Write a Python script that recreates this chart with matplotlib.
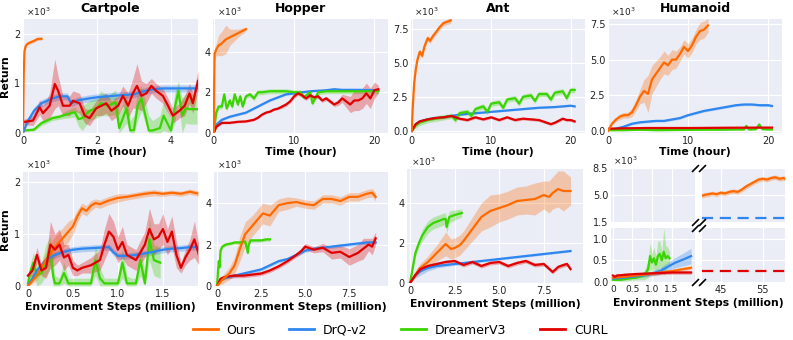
import matplotlib
matplotlib.use("Agg")
import matplotlib.pyplot as plt
import numpy as np
from matplotlib.lines import Line2D

plt.rcParams["font.family"] = ["DejaVu Sans"]

C_OURS = "#ff6a00"
C_DRQ = "#2e86ef"
C_DRM = "#3ad400"
C_CURL = "#e00000"
BG = "#eaecf6"

W, H = 793, 340

# ---------------- data (x10^3 return) ----------------
# Cartpole, time (hour)
cp_t_ours_x = [0, 0.02, 0.04, 0.07, 0.12, 0.2, 0.3, 0.4, 0.5]
cp_t_ours_y = [0, 1.2, 1.65, 1.75, 1.8, 1.83, 1.86, 1.9, 1.9]
cp_t_drq_x = [0, 0.1, 0.3, 0.5, 0.8, 1.0, 1.2, 1.3, 1.5, 1.8, 2.0, 2.3, 2.6, 3.0, 3.2, 3.5, 3.8, 4.0, 4.3, 4.7]
cp_t_drq_y = [0, 0.2, 0.45, 0.6, 0.7, 0.74, 0.74, 0.6, 0.66, 0.7, 0.72, 0.74, 0.76, 0.78, 0.83, 0.88, 0.9, 0.9, 0.9, 0.9]
cp_t_drm_x = [0.05, 0.3, 0.5, 0.8, 1.0, 1.2, 1.4, 1.5, 1.6, 1.8, 2.0, 2.1, 2.3, 2.5, 2.6, 2.8, 2.9, 3.0, 3.1, 3.2,
              3.4, 3.5, 3.7, 3.8, 4.0, 4.1, 4.2, 4.3, 4.4, 4.5, 4.7]
cp_t_drm_y = [0.05, 0.07, 0.2, 0.3, 0.33, 0.38, 0.42, 0.28, 0.3, 0.45, 0.5, 0.6, 0.55, 0.62, 0.1, 0.5, 0.05, 0.06,
              0.55, 0.7, 0.05, 0.05, 0.1, 0.35, 0.05, 0.5, 0.85, 0.35, 0.5, 0.48, 0.48]
cp_t_drm_b = [0.02, 0.03, 0.05, 0.05, 0.05, 0.08, 0.1, 0.15, 0.25, 0.2, 0.2, 0.25, 0.2, 0.25, 0.3, 0.3, 0.2, 0.3,
              0.3, 0.25, 0.3, 0.2, 0.25, 0.3, 0.2, 0.3, 0.2, 0.35, 0.3, 0.3, 0.3]
cp_t_curl_x = [0, 0.27, 0.45, 0.54, 0.72, 0.86, 0.95, 1.08, 1.26, 1.35, 1.53, 1.67, 1.8, 1.98, 2.12, 2.25, 2.39,
               2.57, 2.7, 2.84, 2.97, 3.08, 3.2, 3.33, 3.47, 3.6, 3.78, 3.92, 4.05, 4.23, 4.37, 4.5, 4.59, 4.73]
cp_t_curl_y = [0.22, 0.25, 0.52, 0.4, 0.55, 0.99, 0.85, 0.55, 0.55, 0.65, 0.6, 0.35, 0.3, 0.5, 0.55, 0.6, 0.45,
               0.55, 0.75, 0.55, 0.8, 0.95, 0.75, 0.8, 0.95, 0.85, 0.75, 0.55, 0.35, 0.45, 0.55, 0.8, 0.6, 1.05]
cp_t_curl_b = [0.05, 0.1, 0.15, 0.15, 0.25, 0.5, 0.3, 0.2, 0.2, 0.2, 0.2, 0.15, 0.15, 0.15, 0.2, 0.2, 0.2,
               0.2, 0.2, 0.25, 0.3, 0.45, 0.3, 0.2, 0.15, 0.15, 0.15, 0.15, 0.15, 0.15, 0.2, 0.2, 0.2, 0.2]

# Hopper, time
hp_t_ours_x = [0, 0.05, 0.1, 0.3, 0.6, 1.0, 1.5, 2.0, 2.5, 3.0, 3.5, 4.0]
hp_t_ours_y = [0, 2.5, 3.9, 4.1, 4.3, 4.4, 4.6, 4.7, 4.8, 4.9, 5.0, 5.1]
hp_t_ours_b = [0, 0.3, 0.3, 0.3, 0.5, 0.6, 0.7, 0.4, 0.3, 0.2, 0.15, 0.1]
hp_t_drq_x = [0, 0.3, 1, 2, 3, 4, 5, 6, 7, 8, 9, 10, 11, 12, 14, 15, 16, 18, 20, 20.5]
hp_t_drq_y = [0, 0.4, 0.65, 0.8, 0.9, 1.0, 1.2, 1.4, 1.6, 1.75, 1.9, 1.95, 2.0, 2.05, 2.1, 2.15, 2.12, 2.12, 2.1, 2.1]
hp_t_drm_x = [0, 0.3, 0.6, 1, 1.3, 1.6, 2, 2.3, 2.6, 3, 3.3, 3.6, 4, 4.5, 5, 5.5, 6, 7, 8, 9, 10, 10.8, 11.2,
              12, 12.3, 13, 14, 16, 18, 20, 20.5]
hp_t_drm_y = [0, 1.0, 1.3, 1.3, 1.9, 1.2, 1.6, 1.3, 1.9, 1.4, 1.8, 1.3, 1.8, 1.9, 1.7, 2.0, 2.0, 2.05, 2.05, 2.05,
              2.0, 2.0, 1.75, 2.0, 1.45, 2.0, 2.05, 2.05, 2.05, 2.05, 2.05]
hp_t_curl_x = [0, 0.3, 1, 2, 3, 4, 5, 5.5, 6, 6.5, 7, 7.5, 8, 8.5, 9, 9.5, 10, 10.5, 11, 11.5, 12, 12.5, 13,
               13.5, 14, 14.5, 15, 15.5, 16, 16.5, 17, 17.5, 18, 18.5, 19, 19.5, 20, 20.5]
hp_t_curl_y = [0, 0.3, 0.5, 0.5, 0.55, 0.57, 0.65, 0.75, 0.9, 1.0, 1.05, 1.15, 1.2, 1.3, 1.4, 1.55, 1.8, 1.95,
               1.85, 1.7, 1.85, 1.75, 1.8, 1.6, 1.7, 1.55, 1.4, 1.5, 1.7, 1.55, 1.4, 1.6, 1.6, 1.7, 1.95, 1.7,
               2.1, 2.15]
hp_t_curl_b = [0, 0.05, 0.05, 0.05, 0.05, 0.05, 0.05, 0.05, 0.05, 0.05, 0.05, 0.05, 0.05, 0.08, 0.08, 0.08,
               0.1, 0.1, 0.1, 0.1, 0.1, 0.1, 0.1, 0.1, 0.1, 0.1, 0.1, 0.15, 0.2, 0.3, 0.4, 0.5, 0.5, 0.5, 0.5,
               0.5, 0.4, 0.2]

# Ant, time
an_t_ours_x = [0, 0.1, 0.3, 0.5, 0.7, 1.0, 1.3, 1.6, 2.0, 2.3, 2.6, 3.0, 3.5, 4.0, 4.5, 4.9]
an_t_ours_y = [0, 1.5, 3.5, 4.5, 5.2, 5.8, 5.5, 6.2, 6.8, 6.6, 6.9, 7.2, 7.6, 7.9, 8.0, 8.1]
an_t_drq_x = [0, 0.5, 1, 2, 3, 4, 6, 8, 10, 12, 14, 16, 18, 20, 20.5]
an_t_drq_y = [0, 0.5, 0.7, 0.85, 0.95, 1.0, 1.2, 1.3, 1.4, 1.5, 1.6, 1.7, 1.75, 1.85, 1.8]
an_t_drm_x = [0, 0.5, 1, 2, 3, 4, 5, 5.5, 6, 7, 7.5, 8, 9, 9.5, 10, 11, 11.5, 12, 13, 13.5, 14, 15, 15.5, 16,
              17, 17.5, 18, 19, 19.5, 20, 20.5]
an_t_drm_y = [0, 0.4, 0.6, 0.8, 0.9, 1.0, 1.1, 0.8, 1.3, 1.4, 1.1, 1.6, 1.8, 1.4, 2.0, 2.1, 1.7, 2.3, 2.4, 2.0,
              2.5, 2.6, 2.2, 2.7, 2.7, 2.3, 2.8, 2.9, 2.4, 3.0, 3.0]
an_t_curl_x = [0, 0.5, 1, 2, 3, 4, 5, 5.5, 6, 7, 8, 9, 10, 11, 12, 13, 14, 15, 16, 17, 17.5, 18, 19, 19.5, 20, 20.5]
an_t_curl_y = [0, 0.5, 0.7, 0.85, 0.95, 1.0, 1.1, 1.0, 0.9, 0.8, 1.0, 0.85, 1.0, 0.8, 1.0, 0.8, 0.9, 0.85, 0.8,
               0.6, 0.5, 0.6, 0.9, 0.8, 0.8, 0.7]

# Humanoid, time
hu_t_ours_x = [0, 0.5, 1.0, 1.5, 2.0, 2.5, 3.0, 3.5, 4.0, 4.5, 5.0, 5.5, 6.0, 6.5, 7.0, 7.5, 8.0, 8.5, 9.0, 9.5,
               10.0, 10.5, 11.0, 11.5, 12.0, 12.5]
hu_t_ours_y = [0, 0.5, 0.8, 1.0, 1.1, 1.1, 1.3, 1.8, 2.4, 2.8, 2.6, 3.6, 4.0, 4.4, 4.8, 4.6, 5.0, 5.0, 5.4, 5.9,
               5.6, 6.0, 6.6, 7.0, 7.1, 7.4]
hu_t_ours_b = [0, 0.1, 0.15, 0.2, 0.2, 0.2, 0.3, 0.4, 0.5, 0.8, 1.3, 1.0, 0.9, 0.8, 0.8, 0.7, 0.7, 0.6, 0.5, 0.5,
               0.5, 0.5, 0.5, 0.6, 0.6, 0.5]
hu_t_drq_x = [0, 1, 2, 3, 4, 5, 6, 7, 8, 9, 10, 11, 12, 13, 14, 15, 16, 17, 18, 19, 20, 20.5]
hu_t_drq_y = [0.05, 0.15, 0.3, 0.5, 0.6, 0.65, 0.7, 0.7, 0.8, 0.9, 1.1, 1.25, 1.4, 1.5, 1.6, 1.7, 1.8, 1.85,
              1.85, 1.8, 1.8, 1.75]
hu_t_drm_x = [0, 2, 4, 6, 8, 10, 12, 14, 16, 17, 17.3, 17.6, 18, 18.5, 18.9, 19.3, 20, 20.5]
hu_t_drm_y = [0.05, 0.05, 0.08, 0.05, 0.06, 0.07, 0.08, 0.08, 0.1, 0.1, 0.35, 0.1, 0.1, 0.12, 0.45, 0.12, 0.1, 0.1]
hu_t_curl_x = [0, 2, 5, 10, 15, 20, 20.5]
hu_t_curl_y = [0.15, 0.18, 0.2, 0.2, 0.22, 0.23, 0.23]

# Cartpole, environment steps (million)
cp_s_ours_x = [0, 0.05, 0.1, 0.15, 0.2, 0.25, 0.3, 0.35, 0.4, 0.45, 0.5, 0.55, 0.6, 0.65, 0.7, 0.75, 0.8, 0.9,
               1.0, 1.1, 1.2, 1.3, 1.4, 1.5, 1.6, 1.7, 1.8, 1.85, 1.9]
cp_s_ours_y = [0, 0.1, 0.2, 0.35, 0.5, 0.62, 0.75, 0.85, 0.95, 1.05, 1.15, 1.35, 1.5, 1.45, 1.55, 1.6, 1.58,
               1.65, 1.7, 1.72, 1.75, 1.78, 1.8, 1.78, 1.8, 1.78, 1.82, 1.8, 1.78]
cp_s_ours_b = [0, 0.05, 0.08, 0.1, 0.15, 0.2, 0.2, 0.2, 0.2, 0.2, 0.15, 0.12, 0.1, 0.1, 0.1, 0.08, 0.08, 0.08,
               0.08, 0.06, 0.06, 0.06, 0.06, 0.05, 0.05, 0.05, 0.05, 0.05, 0.05]
cp_s_drq_x = [0, 0.05, 0.1, 0.2, 0.3, 0.4, 0.5, 0.6, 0.7, 0.8, 0.9, 0.95, 1.0, 1.1, 1.2, 1.3, 1.4, 1.5, 1.6,
              1.7, 1.8, 1.9]
cp_s_drq_y = [0, 0.15, 0.3, 0.5, 0.6, 0.66, 0.7, 0.72, 0.73, 0.74, 0.75, 0.65, 0.58, 0.58, 0.6, 0.63, 0.66,
              0.7, 0.72, 0.73, 0.75, 0.75]
cp_s_drm_x = [0, 0.03, 0.06, 0.1, 0.15, 0.2, 0.25, 0.28, 0.3, 0.35, 0.4, 0.45, 0.5, 0.55, 0.6, 0.65, 0.7, 0.75,
              0.8, 0.85, 0.9, 0.95, 1.0, 1.05, 1.1, 1.15, 1.2, 1.25, 1.3, 1.35, 1.4, 1.47]
cp_s_drm_y = [0.05, 0.3, 0.45, 0.2, 0.25, 0.5, 0.65, 0.2, 0.05, 0.05, 0.25, 0.05, 0.05, 0.05, 0.05, 0.05, 0.05,
              0.5, 0.15, 0.05, 0.05, 0.05, 0.05, 0.45, 0.05, 0.05, 0.05, 0.5, 0.05, 0.9, 0.5, 0.45]
cp_s_drm_b = [0.05, 0.15, 0.2, 0.2, 0.2, 0.3, 0.3, 0.25, 0.15, 0.1, 0.2, 0.1, 0.1, 0.1, 0.1, 0.1, 0.1, 0.3,
              0.2, 0.1, 0.1, 0.1, 0.1, 0.3, 0.15, 0.1, 0.1, 0.3, 0.2, 0.4, 0.3, 0.3]
cp_s_curl_x = [0, 0.05, 0.1, 0.15, 0.2, 0.25, 0.3, 0.35, 0.4, 0.45, 0.5, 0.55, 0.6, 0.7, 0.8, 0.85, 0.9, 0.95,
               1.0, 1.05, 1.1, 1.2, 1.3, 1.35, 1.4, 1.45, 1.5, 1.55, 1.6, 1.65, 1.7, 1.75, 1.8, 1.85, 1.9]
cp_s_curl_y = [0.2, 0.3, 0.6, 0.3, 0.35, 0.8, 0.7, 0.8, 0.55, 0.6, 0.35, 0.3, 0.35, 0.4, 0.5, 0.8, 1.05, 0.95,
               0.7, 0.85, 0.6, 0.5, 0.8, 1.1, 0.9, 0.95, 1.1, 0.85, 1.05, 0.6, 0.35, 0.55, 0.7, 0.9, 0.6]
cp_s_curl_b = [0.05, 0.1, 0.15, 0.1, 0.2, 0.45, 0.3, 0.3, 0.25, 0.2, 0.15, 0.1, 0.1, 0.15, 0.2, 0.3, 0.35, 0.3,
               0.25, 0.3, 0.2, 0.2, 0.25, 0.4, 0.3, 0.25, 0.3, 0.25, 0.3, 0.25, 0.1, 0.15, 0.2, 0.35, 0.2]

# Hopper, environment steps
hp_s_ours_x = [0, 0.3, 0.7, 1.0, 1.3, 1.6, 2.0, 2.3, 2.6, 3.0, 3.5, 4.0, 4.5, 5.0, 5.5, 6.0, 6.5, 7.0, 7.5, 8.0,
               8.5, 8.8, 9.0]
hp_s_ours_y = [0, 0.3, 0.6, 1.0, 1.8, 2.5, 2.9, 3.2, 3.5, 3.4, 3.9, 4.0, 4.05, 3.95, 3.9, 4.2, 4.2, 4.1, 4.3,
               4.3, 4.45, 4.5, 4.3]
hp_s_ours_b = [0, 0.2, 0.3, 0.4, 0.6, 0.6, 0.5, 0.5, 0.5, 0.5, 0.3, 0.3, 0.2, 0.2, 0.2, 0.2, 0.2, 0.2, 0.2, 0.2,
               0.2, 0.2, 0.2]
hp_s_drq_x = [0, 0.2, 0.5, 1, 1.5, 2, 2.5, 3, 3.5, 4, 4.5, 5, 5.5, 6, 7, 8, 8.5, 9]
hp_s_drq_y = [0, 0.3, 0.4, 0.5, 0.6, 0.7, 0.8, 1.0, 1.2, 1.3, 1.5, 1.7, 1.8, 1.85, 1.95, 2.05, 2.1, 2.1]
hp_s_drm_x = [0, 0.1, 0.15, 0.2, 0.3, 0.5, 0.8, 1.0, 1.3, 1.6, 1.75, 1.8, 1.9, 2.2, 2.5, 2.8, 3.0]
hp_s_drm_y = [0, 1.2, 0.9, 1.7, 1.9, 2.0, 2.05, 2.1, 2.1, 2.15, 1.6, 2.0, 2.2, 2.2, 2.2, 2.25, 2.25]
hp_s_curl_x = [0, 0.2, 0.5, 1, 1.5, 2, 2.5, 3, 3.5, 4, 4.5, 4.8, 5, 5.5, 6, 6.5, 7, 7.5, 8, 8.3, 8.6, 8.8, 9]
hp_s_curl_y = [0, 0.35, 0.45, 0.5, 0.5, 0.55, 0.6, 0.75, 0.95, 1.2, 1.5, 1.7, 1.9, 1.75, 1.85, 1.6, 1.65, 1.4,
               1.6, 1.8, 2.0, 1.9, 2.3]
hp_s_curl_b = [0, 0.1, 0.1, 0.1, 0.1, 0.1, 0.1, 0.1, 0.1, 0.1, 0.1, 0.15, 0.15, 0.15, 0.2, 0.3, 0.3, 0.4, 0.4,
               0.5, 0.3, 0.4, 0.3]

# Ant, environment steps
an_s_ours_x = [0, 0.3, 0.5, 1.0, 1.5, 2.0, 2.3, 2.5, 2.8, 3.0, 3.5, 4.0, 4.5, 5.0, 5.5, 6.0, 6.5, 7.0, 7.5, 7.8,
               8.0, 8.3, 8.6, 9.0]
an_s_ours_y = [0, 0.4, 0.7, 1.05, 1.5, 1.95, 1.7, 1.75, 1.9, 2.1, 2.7, 3.3, 3.6, 3.75, 3.9, 4.1, 4.15, 4.2, 4.4,
               4.3, 4.5, 4.7, 4.6, 4.6]
an_s_ours_b = [0, 0.1, 0.2, 0.3, 0.4, 0.6, 0.5, 0.5, 0.5, 0.5, 0.6, 0.7, 0.8, 0.7, 0.7, 0.7, 0.7, 0.8, 0.7, 0.8,
               0.8, 0.9, 1.0, 0.7]
an_s_drq_x = [0, 0.3, 0.6, 1, 1.5, 2, 3, 4, 5, 6, 7, 8, 9]
an_s_drq_y = [0, 0.4, 0.6, 0.75, 0.85, 0.9, 1.0, 1.1, 1.2, 1.3, 1.4, 1.5, 1.6]
an_s_drq_b = [0, 0.15, 0.2, 0.15, 0.1, 0.08, 0.05, 0.05, 0.05, 0.05, 0.05, 0.05, 0.05]
an_s_drm_x = [0, 0.1, 0.3, 0.5, 0.7, 1.0, 1.3, 1.6, 1.9, 2.0, 2.05, 2.2, 2.5, 2.9]
an_s_drm_y = [0, 0.5, 1.5, 2.0, 2.4, 2.8, 3.0, 3.1, 3.2, 3.2, 2.8, 3.3, 3.4, 3.5]
an_s_drm_b = [0, 0.1, 0.2, 0.2, 0.3, 0.3, 0.3, 0.3, 0.3, 0.3, 0.3, 0.3, 0.25, 0.2]
an_s_curl_x = [0, 0.3, 0.6, 1, 1.5, 2, 2.5, 3, 3.5, 4, 4.5, 5, 5.5, 6, 6.5, 7, 7.5, 8, 8.3, 8.6, 8.8, 9]
an_s_curl_y = [0, 0.4, 0.7, 0.85, 0.95, 1.05, 1.1, 0.9, 1.05, 0.85, 1.0, 1.05, 0.85, 1.0, 1.1, 0.9, 0.95, 0.55,
               0.8, 0.9, 0.95, 0.7]

# Humanoid, environment steps (broken axes)
hu_s_ours_x = [0, 0.3, 0.6, 0.9, 1.2, 1.5, 1.8, 2.0]
hu_s_ours_y = [0.1, 0.12, 0.15, 0.18, 0.22, 0.25, 0.3, 0.33]
hu_s_drq_x = [0, 0.3, 0.6, 0.9, 1.2, 1.4, 1.6, 1.8, 2.0]
hu_s_drq_y = [0.08, 0.1, 0.13, 0.17, 0.25, 0.35, 0.45, 0.52, 0.6]
hu_s_drq_b = [0.02, 0.03, 0.03, 0.05, 0.08, 0.1, 0.12, 0.15, 0.18]
hu_s_drm_x = [0, 0.2, 0.4, 0.6, 0.8, 0.9, 0.95, 1.0, 1.05, 1.1, 1.15, 1.2, 1.25, 1.3, 1.35, 1.4, 1.45]
hu_s_drm_y = [0.05, 0.05, 0.08, 0.1, 0.15, 0.3, 0.6, 0.45, 0.55, 0.4, 0.6, 0.65, 0.5, 0.7, 0.55, 0.6, 0.55]
hu_s_drm_b = [0.02, 0.03, 0.05, 0.05, 0.1, 0.2, 0.3, 0.2, 0.25, 0.2, 0.35, 0.3, 0.2, 0.55, 0.3, 0.2, 0.15]
hu_s_curl_x = [0, 0.05, 0.1, 0.5, 1.0, 1.5, 2.0]
hu_s_curl_y = [0.15, 0.12, 0.15, 0.18, 0.2, 0.22, 0.22]
hu_s_ours_far_x = [40.5, 41, 42, 43, 44, 45, 46, 47, 48, 49, 50, 51, 52, 53, 54, 55, 56, 57, 58, 59, 60, 60.3]
hu_s_ours_far_y = [4.9, 5.0, 5.1, 5.2, 5.1, 5.3, 5.2, 5.4, 5.5, 5.4, 5.7, 6.1, 6.4, 6.7, 7.0, 7.1, 7.0, 7.2,
                   7.3, 7.1, 7.2, 7.1]
hu_drq_final = 2.0
hu_curl_final = 0.25

labels = ["Ours", "DrQ-v2", "DreamerV3", "CURL"]
colors = [C_OURS, C_DRQ, C_DRM, C_CURL]

TICK_FS = 7
TITLE_FS = 9
LAB_FS = 7.8


def box(l, t, r, b):
    return [l / W, 1 - b / H, (r - l) / W, (b - t) / H]


fig = plt.figure(figsize=(W / 100, H / 100), dpi=100)


def style(ax, xlim, ylim, xt, xtl, yt, ytl):
    ax.set_facecolor(BG)
    for s in ax.spines.values():
        s.set_visible(False)
    ax.set_xlim(*xlim)
    ax.set_ylim(*ylim)
    ax.set_xticks(xt)
    ax.set_xticklabels(xtl)
    ax.set_yticks(yt)
    ax.set_yticklabels(ytl)
    ax.tick_params(length=0, labelsize=TICK_FS, pad=2, colors="#222222")
    ax.grid(True, color="white", lw=0.9)
    ax.set_axisbelow(True)


def curve(ax, x, y, c, b=0.0, lw=1.6, alpha=0.3):
    x = np.asarray(x, float)
    y = np.asarray(y, float)
    b = np.broadcast_to(np.asarray(b, float), y.shape)
    ax.fill_between(x, np.clip(y - b, 0, None), y + b, color=c, alpha=alpha, lw=0)
    ax.plot(x, y, color=c, lw=lw)


def x1e3(ax):
    ax.text(0.02, 1.01, r"$\times10^3$", transform=ax.transAxes, fontsize=6.5,
            ha="left", va="bottom", color="#222222")


def top_labels(ax, title):
    ax.set_title(title, fontsize=TITLE_FS, fontweight="bold", pad=5)
    ax.set_xlabel("Time (hour)", fontsize=LAB_FS, fontweight="bold", labelpad=1)
    x1e3(ax)


# ---------------- top row ----------------
ax = fig.add_axes(box(23, 19, 198, 133))
style(ax, (0, 4.73), (0, 2.3), [0, 2, 4], ["0", "2", "4"], [0, 1, 2], ["0", "1", "2"])
curve(ax, cp_t_drm_x, cp_t_drm_y, C_DRM, cp_t_drm_b)
curve(ax, cp_t_drq_x, cp_t_drq_y, C_DRQ, 0.07)
curve(ax, cp_t_curl_x, cp_t_curl_y, C_CURL, cp_t_curl_b)
curve(ax, cp_t_ours_x, cp_t_ours_y, C_OURS, 0.03)
top_labels(ax, "Cartpole")
ax.set_ylabel("Return", fontsize=LAB_FS, fontweight="bold", labelpad=3)

ax = fig.add_axes(box(213, 19, 388, 133))
style(ax, (-0.1, 21.7), (0, 5.6), [0, 10, 20], ["0", "10", "20"], [0, 2, 4], ["0", "2", "4"])
curve(ax, hp_t_drq_x, hp_t_drq_y, C_DRQ, 0.05)
curve(ax, hp_t_drm_x, hp_t_drm_y, C_DRM, 0.12)
curve(ax, hp_t_curl_x, hp_t_curl_y, C_CURL, hp_t_curl_b)
curve(ax, hp_t_ours_x, hp_t_ours_y, C_OURS, hp_t_ours_b)
top_labels(ax, "Hopper")

ax = fig.add_axes(box(411, 19, 585, 133))
style(ax, (-0.1, 21.8), (-0.15, 8.2), [0, 10, 20], ["0", "10", "20"], [0, 2.5, 5, 7.5],
      ["0.0", "2.5", "5.0", "7.5"])
curve(ax, an_t_drq_x, an_t_drq_y, C_DRQ, 0.06)
curve(ax, an_t_drm_x, an_t_drm_y, C_DRM, 0.2)
curve(ax, an_t_curl_x, an_t_curl_y, C_CURL, 0.1)
curve(ax, an_t_ours_x, an_t_ours_y, C_OURS, 0.2)
top_labels(ax, "Ant")

ax = fig.add_axes(box(608, 19, 782, 133))
style(ax, (0, 21.75), (-0.15, 7.85), [0, 10, 20], ["0", "10", "20"], [0, 2.5, 5, 7.5],
      ["0.0", "2.5", "5.0", "7.5"])
curve(ax, hu_t_drq_x, hu_t_drq_y, C_DRQ, 0.08)
curve(ax, hu_t_drm_x, hu_t_drm_y, C_DRM, 0.05)
curve(ax, hu_t_curl_x, hu_t_curl_y, C_CURL, 0.04)
curve(ax, hu_t_ours_x, hu_t_ours_y, C_OURS, hu_t_ours_b)
top_labels(ax, "Humanoid")

# ---------------- bottom row ----------------
xlab = "Environment Steps (million)"
ax = fig.add_axes(box(23, 172, 198, 286))
style(ax, (-0.055, 1.89), (0, 2.2), [0, 0.5, 1.0, 1.5], ["0", "0.5", "1.0", "1.5"], [0, 1, 2], ["0", "1", "2"])
curve(ax, cp_s_drm_x, cp_s_drm_y, C_DRM, cp_s_drm_b)
curve(ax, cp_s_drq_x, cp_s_drq_y, C_DRQ, 0.06)
curve(ax, cp_s_ours_x, cp_s_ours_y, C_OURS, cp_s_ours_b)
curve(ax, cp_s_curl_x, cp_s_curl_y, C_CURL, cp_s_curl_b)
ax.set_xlabel(xlab, fontsize=LAB_FS, fontweight="bold", labelpad=2)
ax.set_ylabel("Return", fontsize=LAB_FS, fontweight="bold", labelpad=3)
x1e3(ax)

ax = fig.add_axes(box(214, 172, 388, 286))
style(ax, (-0.17, 9.7), (0, 5.5), [0, 2.5, 5, 7.5], ["0", "2.5", "5.0", "7.5"], [0, 2, 4], ["0", "2", "4"])
curve(ax, hp_s_drq_x, hp_s_drq_y, C_DRQ, 0.08)
curve(ax, hp_s_drm_x, hp_s_drm_y, C_DRM, 0.08)
curve(ax, hp_s_curl_x, hp_s_curl_y, C_CURL, hp_s_curl_b)
curve(ax, hp_s_ours_x, hp_s_ours_y, C_OURS, hp_s_ours_b)
ax.set_xlabel(xlab, fontsize=LAB_FS, fontweight="bold", labelpad=2)
x1e3(ax)

ax = fig.add_axes(box(407, 169, 583, 283))
style(ax, (-0.17, 9.7), (0, 5.7), [0, 2.5, 5, 7.5], ["0", "2.5", "5.0", "7.5"], [0, 2, 4], ["0", "2", "4"])
curve(ax, an_s_drq_x, an_s_drq_y, C_DRQ, an_s_drq_b)
curve(ax, an_s_drm_x, an_s_drm_y, C_DRM, an_s_drm_b)
curve(ax, an_s_ours_x, an_s_ours_y, C_OURS, an_s_ours_b)
curve(ax, an_s_curl_x, an_s_curl_y, C_CURL, 0.1)
ax.set_xlabel(xlab, fontsize=LAB_FS, fontweight="bold", labelpad=2)
x1e3(ax)

# Humanoid broken axes
ax_tl = fig.add_axes(box(611, 168, 695, 222))
ax_tr = fig.add_axes(box(702, 168, 785, 222))
ax_bl = fig.add_axes(box(611, 228, 695, 282))
ax_br = fig.add_axes(box(702, 228, 785, 282))
style(ax_tl, (-0.05, 2.1), (1.5, 8.5), [0, 0.5, 1.0, 1.5], [], [1.5, 5.0, 8.5], ["1.5", "5.0", "8.5"])
style(ax_tr, (40.5, 60.3), (1.5, 8.5), [45, 55], [], [1.5, 5.0, 8.5], [])
style(ax_bl, (-0.05, 2.1), (0, 1.25), [0, 0.5, 1.0, 1.5], ["0", "0.5", "1.0", "1.5"], [0, 0.5, 1.0],
      ["0.0", "0.5", "1.0"])
style(ax_br, (40.5, 60.3), (0, 1.25), [45, 55], ["45", "55"], [0, 0.5, 1.0], [])
ax_bl.tick_params(axis="x", labelsize=6.5)
curve(ax_bl, hu_s_drm_x, hu_s_drm_y, C_DRM, hu_s_drm_b)
curve(ax_bl, hu_s_drq_x, hu_s_drq_y, C_DRQ, hu_s_drq_b)
curve(ax_bl, hu_s_ours_x, hu_s_ours_y, C_OURS, 0.04)
curve(ax_bl, hu_s_curl_x, hu_s_curl_y, C_CURL, 0.04)
curve(ax_tr, hu_s_ours_far_x, hu_s_ours_far_y, C_OURS, 0.3)
ax_tr.axhline(hu_drq_final, color=C_DRQ, lw=1.6, ls=(0, (5, 3)))
ax_br.axhline(hu_curl_final, color=C_CURL, lw=1.6, ls=(0, (5, 3)))
x1e3(ax_tl)
fig.text((611 + 785) / 2 / W, 1 - 303 / H, xlab, fontsize=LAB_FS, fontweight="bold", ha="center", va="center")

kw = dict(marker=[(-1, -1), (1, 1)], markersize=5, linestyle="none", color="k", mec="k", mew=1.2, clip_on=False)
ax_tl.plot([1, 1], [0, 1], transform=ax_tl.transAxes, **kw)
ax_tr.plot([0, 0], [0, 1], transform=ax_tr.transAxes, **kw)
ax_bl.plot([1, 1], [0, 1], transform=ax_bl.transAxes, **kw)
ax_br.plot([0, 0], [0, 1], transform=ax_br.transAxes, **kw)

# legend
handles = [Line2D([0], [0], color=c, lw=2) for c in colors]
fig.legend(handles, labels, loc="center", bbox_to_anchor=(400 / W, 1 - 330 / H), ncol=4, frameon=False,
           fontsize=9, handlelength=2.0, handletextpad=0.7, columnspacing=2.7)

fig.savefig("out.png", dpi=100)
